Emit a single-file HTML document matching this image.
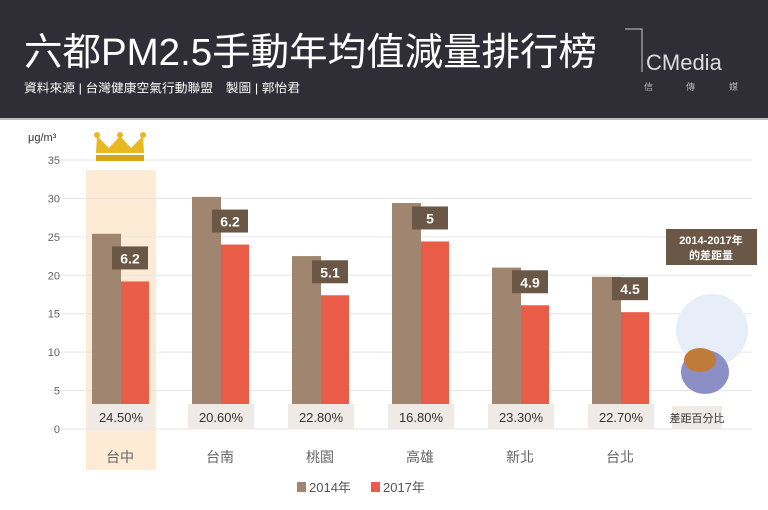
<!DOCTYPE html>
<html><head><meta charset="utf-8">
<style>
body{margin:0;width:768px;height:510px;background:#fff;overflow:hidden;font-family:"Liberation Sans","Noto Sans CJK TC",sans-serif;}
#hdr{position:absolute;left:0;top:0;width:768px;height:118px;background:#2f2d36;border-bottom:2px solid #bdbdbd;}
#logo{position:absolute;left:624px;top:28px;color:#ddd;}
</style></head><body>
<div id="hdr">
 <svg width="620" height="118" style="position:absolute;left:0;top:0">
  <text x="24" y="65" font-size="38" fill="#fff" textLength="573" lengthAdjust="spacingAndGlyphs" font-family="Liberation Sans, Noto Sans CJK TC, sans-serif">六都PM2.5手動年均值減量排行榜</text>
  <text x="24" y="92" font-size="12" fill="#fff" textLength="276" lengthAdjust="spacingAndGlyphs" font-family="Liberation Sans, Noto Sans CJK TC, sans-serif">資料來源 | 台灣健康空氣行動聯盟　製圖 | 郭怡君</text>
 </svg>
 <div id="logo">
  <svg width="130" height="70"><path d="M1 1H18V44" stroke="#ccc" fill="none"/><text x="22" y="42" font-size="22" fill="#ddd" font-family="Liberation Sans">CMedia</text><text x="20" y="62" font-size="9" fill="#bbb" font-family="Noto Sans CJK TC">信</text><text x="62" y="62" font-size="9" fill="#bbb" font-family="Noto Sans CJK TC">傳</text><text x="105" y="62" font-size="9" fill="#bbb" font-family="Noto Sans CJK TC">媒</text></svg>
 </div>
</div>
<svg id="chart" width="768" height="510" style="position:absolute;left:0;top:0"></svg>
<script>
const categories=["台中","台南","桃園","高雄","新北","台北"];
const values2014=[25.4,30.2,22.5,29.4,21.0,19.8];
const values2017=[19.2,24.0,17.4,24.4,16.1,15.2];
const diffLabels=["6.2","6.2","5.1","5","4.9","4.5"];
const pctLabels=["24.50%","20.60%","22.80%","16.80%","23.30%","22.70%"];
const yTicks=[0,5,10,15,20,25,30,35];
const NS="http://www.w3.org/2000/svg";
const svg=document.getElementById('chart');
const y0=429,pxPerUnit=269/35;
const y=v=>y0-v*pxPerUnit;
const cx=i=>120+i*100;
function el(t,a,p){const e=document.createElementNS(NS,t);for(const k in a)e.setAttribute(k,a[k]);(p||svg).appendChild(e);return e;}
let h=el('rect',{x:86,y:170,width:70,height:300,fill:'#fdebd6'});


yTicks.forEach(t=>{
 let g=el('line',{x1:50,x2:752,y1:y(t),y2:y(t),stroke:'#e6e6e6','stroke-width':1});
 
 
 let tx=el('text',{x:60,y:y(t)+4,'text-anchor':'end','font-size':11,fill:'#666'});
 tx.textContent=t;
 
 
});
let u=el('text',{x:28,y:141,'font-size':11,fill:'#333'});u.textContent='μg/m³';


let cr=el('g',{});


el('path',{d:'M96 153L97 136L109 148L120 136L131 148L143 136L144 153Z',fill:'#e8b820'},cr);
el('rect',{x:96,y:155,width:48,height:6,fill:'#d9a417'},cr);
[97,120,143].forEach(x=>el('circle',{cx:x,cy:135,r:3,fill:'#e8b820'},cr));
categories.forEach((c,i)=>{
 let b1=el('rect',{x:cx(i)-28,y:y(values2014[i]),width:29,height:y0-y(values2014[i]),fill:'#a08570'});
 
 
 let b2=el('rect',{x:cx(i)+1,y:y(values2017[i]),width:28,height:y0-y(values2017[i]),fill:'#e85c48'});
 
 
 const top=y(values2017[i]);
 let db=el('rect',{x:cx(i)-8,y:top-35,width:36,height:23,fill:'#6b5746'});
 
 
 let dt=el('text',{x:cx(i)+10,y:top-18,'text-anchor':'middle','font-size':14,'font-weight':'bold',fill:'#fff'});
 dt.textContent=diffLabels[i];
 
 
 let pb=el('rect',{x:cx(i)-32,y:404,width:66,height:25,fill:'#efeae5'});
 
 
 let pt=el('text',{x:cx(i)+1,y:422,'text-anchor':'middle','font-size':13,fill:'#333'});
 pt.textContent=pctLabels[i];
 
 
 let ct=el('text',{x:cx(i),y:462,'text-anchor':'middle','font-size':14,fill:'#666'});
 ct.textContent=c;
 
 
});
let ab=el('rect',{x:666,y:229,width:91,height:36,fill:'#6b5746'});


let at1=el('text',{x:711,y:244,'text-anchor':'middle','font-size':11,'font-weight':'bold',fill:'#fff'});at1.textContent='2014-2017年';


let at2=el('text',{x:711,y:259,'text-anchor':'middle','font-size':11,'font-weight':'bold',fill:'#fff'});at2.textContent='的差距量';


let mg=el('g',{});


el('circle',{cx:712,cy:330,r:36,fill:'#e8eef8'},mg);
el('ellipse',{cx:705,cy:372,rx:24,ry:22,fill:'#8b8fc6'},mg);
el('ellipse',{cx:700,cy:360,rx:16,ry:12,fill:'#c07a3a'},mg);
let pbx=el('rect',{x:672,y:406,width:50,height:23,fill:'#efeae5'});


let pbt=el('text',{x:697,y:422,'text-anchor':'middle','font-size':11,fill:'#333'});pbt.textContent='差距百分比';


[['#a08570','2014年',297],['#e85c48','2017年',371]].forEach(([c,t,x])=>{
 let s=el('rect',{x:x,y:482,width:9,height:10,fill:c});
 
 
 let l=el('text',{x:x+12,y:492,'font-size':13,fill:'#555'});l.textContent=t;
 
 
});
</script>
</body></html>
